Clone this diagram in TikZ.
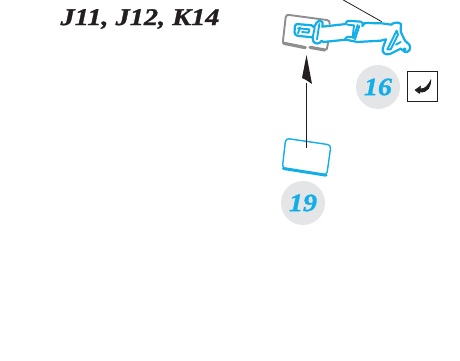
\documentclass[tikz,border=0pt]{standalone}
\usepackage{fontspec}
\setmainfont[BoldItalicFeatures={FakeBold=1.2}]{Liberation Serif}
\definecolor{cy}{HTML}{12AEEA}
\definecolor{bub}{HTML}{E4E5E7}
\definecolor{plate}{HTML}{8E8E90}
\definecolor{ink}{HTML}{231F20}
\tikzset{
  numcircle/.style={circle,fill=bub,minimum size=44pt,inner sep=0pt},
  numtext/.style={inner sep=0pt,xscale=1.12,text=cy,font=\bfseries\itshape\fontsize{25}{25}\selectfont},
  cyline/.style={draw=cy,line width=1.9pt,line join=round,line cap=round},
  plateline/.style={draw=plate,line width=1.9pt,line join=round,line cap=round},
  leader/.style={draw=ink,line width=.8pt},
}
\begin{document}
\begin{tikzpicture}[x=1pt,y=-1pt]
\useasboundingbox (0,0) rectangle (460,361);
\node[anchor=center,text=ink,xscale=1.18,font=\bfseries\itshape\fontsize{24}{24}\selectfont,inner sep=0pt] (title) at (140,19) {J11, J12, K14};
\node[numcircle] (n16) at (378,87) {};
\node[numtext] (t16) at (378,87) {16};
\node[numcircle] (n19) at (303,203) {};
\node[numtext] (t19) at (303,203) {19};
\node[draw=ink,line width=.8pt,minimum size=30pt,inner sep=0pt] (retbox) at (422,86) {};
\fill[ink] (431,79) .. controls (431.5,87) and (428,93) .. (420,92.3) -- (419.5,94) -- (414.5,90) -- (421,85.5) -- (420.5,88.5) .. controls (425,89) and (428,85) .. (431,79) -- cycle;
% gray plate
\begin{scope}[xshift=270pt,x=.3333pt,y=-.3333pt]
\draw[plateline] (45,132) .. controls (38,130) and (38,128) .. (39,122) -- (47,52) .. controls (48,45) and (52,44) .. (58,45) -- (170,60) .. controls (178,62) and (180,64) .. (179,72);
\draw[plateline,line width=3.2pt] (42,130) -- (106,143);
\draw[plateline,line width=3.2pt] (120,142) -- (164,150);
\draw[plateline] (164,150) .. controls (170,150) and (172,146) .. (172,140) -- (175,125);
% cyan part
\draw[cyline,line width=2.2pt]
 (80,72) -- (125,76) -- (132,82) -- (140,68) .. controls (145,60) and (160,62) .. (158,72) -- (157,80) -- (228,72) .. controls (228,62) and (235,62) .. (245,63) -- (272,65) .. controls (280,66) and (280,72) .. (277,78) -- (285,69) -- (335,70) -- (364,74) .. controls (372,66) and (385,66) .. (393,72) -- (392,95) -- (405,122) -- (418,134) .. controls (424,145) and (418,158) .. (405,156) -- (392,146) -- (360,162) .. controls (345,166) and (336,158) .. (338,146) -- (348,118) -- (332,122) -- (262,126) -- (228,119) -- (160,126) -- (155,122) .. controls (150,132) and (135,134) .. (130,124) -- (128,112) -- (88,108) .. controls (76,108) and (72,100) .. (74,90) .. controls (74,78) and (76,73) .. (80,72) -- cycle;
\draw[cyline] (141,118) -- (148,72);
\draw[cyline] (128,112) -- (134,84);
\draw[cyline] (90,82) -- (84,100);
\draw[cyline] (84,85) -- (118,88) -- (116,98) -- (96,96);
\draw[cyline] (224,118) -- (232,110) -- (248,112) -- (252,76) -- (232,74);
\draw[cyline] (263,75) -- (250,115);
\draw[cyline] (268,78) -- (255,118);
\draw[cyline] (352,148) -- (380,92) -- (384,104) -- (362,148) -- cycle;
\draw[cyline] (378,134) -- (392,126);
\draw[cyline] (404,148) circle (3);
\coordinate (lead) at (335,65);
\coordinate (top) at (220,0);
\end{scope}
\draw[leader] (top) -- (lead);
% part 19
\draw[cyline,line width=1.4pt,rounded corners=3.5pt] (285.7,138.3) -- (331,145) -- (326.7,175.5) -- (282.3,168.3) -- cycle;
\draw[cy,line width=3pt,line cap=round] (283.5,168.5) -- (326,175.2);
% arrow
\coordinate (p19) at (306,148);
\coordinate (platept) at (306,83);
\draw[leader,line width=1pt] (p19) -- (platept);
\fill[ink] (306.5,55) -- (312,84) -- (306,80) -- (302,78) -- cycle;
\end{tikzpicture}
\end{document}
